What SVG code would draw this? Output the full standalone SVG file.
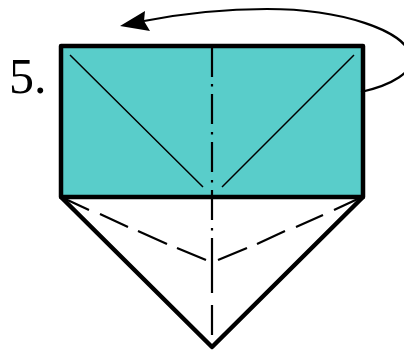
<svg xmlns="http://www.w3.org/2000/svg" width="404" height="350" viewBox="0 0 404 350">
<style>
.edge{fill:none;stroke:#000;stroke-width:4.500;stroke-linejoin:round}
.thin{fill:none;stroke:#000;stroke-width:1.500}
.med{fill:none;stroke:#000;stroke-width:2.200}
</style>
<rect width="404" height="350" fill="#fff"/>
<g id="label"><text x="9" y="93" font-family="'Liberation Serif',serif" font-size="50" fill="#000">5.</text></g>
<g id="top-panel"><rect x="61" y="46" width="302" height="151" fill="#59cdca"/></g>
<g id="connectors">
<path class="thin" d="M70 55L203 187M354 55L222 187"/>
<path class="med" d="M212 46V77M212 84V86.500M212 94V124M212 132V134.500M212 142V172M212 180V182.500M212 190V220M212 228V230.500M212 238V293M212 305V335"/>
<path class="med" d="M61 197L89 210M100 214L128 227M138 231L167 244M177 248L206 260M218 260L247 248M257 244L285 231M296 227L323 215M334 210L362 197"/>
<path class="med" d="M361 92C392 85 414 72 411 57C406 30 340 9 267 9C220 9 180 14 144 21"/>
<path d="M120 26L145 11L144 21L150 31Z" fill="#000"/>
</g>
<g id="outline">
<rect class="edge" x="61" y="46" width="302" height="151"/>
<path class="edge" d="M61 197L212 347L363 197"/>
</g>
</svg>
